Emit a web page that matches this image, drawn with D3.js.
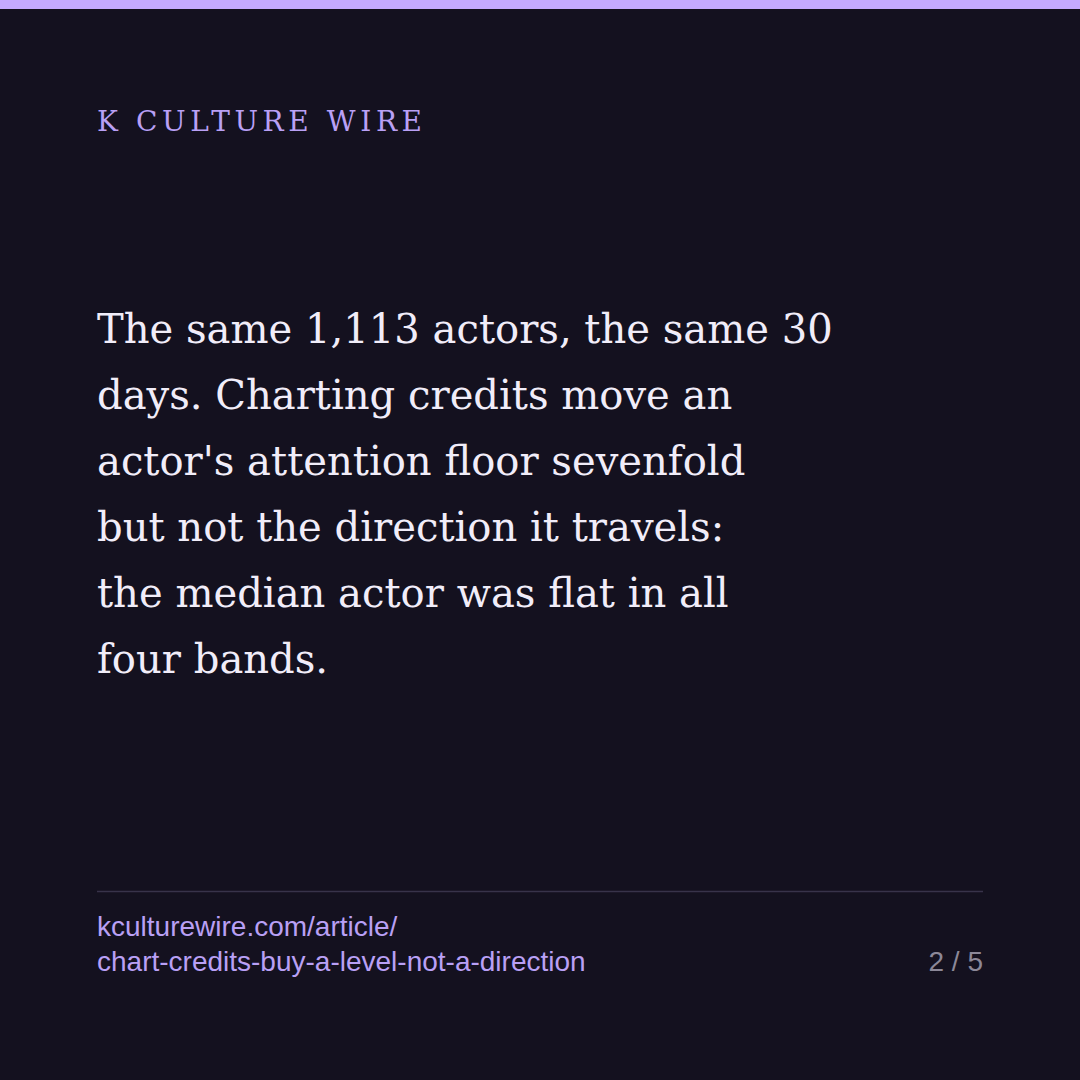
<!DOCTYPE html>
<html>
<head>
<meta charset="utf-8">
<script src="https://cdn.jsdelivr.net/npm/d3@7"></script>
<style>
  html, body { margin: 0; padding: 0; background: #14111f; }
</style>
</head>
<body>
<div id="card"></div>
<script>
  // content
  const brand = "K CULTURE WIRE";
  const bodyLines = [
    "The same 1,113 actors, the same 30",
    "days. Charting credits move an",
    "actor's attention floor sevenfold",
    "but not the direction it travels:",
    "the median actor was flat in all",
    "four bands."
  ];
  const linkLines = ["kculturewire.com/article/", "chart-credits-buy-a-level-not-a-direction"];
  const pageLabel = "2 / 5";

  function drawCard() {
    const width = 1080;
    const height = 1080;
    const left = 97;
    const right = 983;

    const svg = d3.select("#card")
      .append("svg")
      .attr("width", width)
      .attr("height", height);

    svg.append("rect")
      .attr("width", width)
      .attr("height", height)
      .attr("fill", "#14111f");

    // top accent bar
    svg.append("rect")
      .attr("width", width)
      .attr("height", 9)
      .attr("fill", "#c4a9ff");

    svg.append("text")
      .attr("x", left)
      .attr("y", 131)
      .attr("fill", "#b9a0f5")
      .style("font-family", "'DejaVu Serif', 'Liberation Serif', serif")
      .style("font-size", "28px")
      .style("letter-spacing", "4.6px")
      .text(brand);

    // body lines, one baseline each
    const lineY = d3.scalePoint()
      .domain(d3.range(bodyLines.length))
      .range([343, 673]);

    const body = svg.append("g")
      .selectAll("text")
      .data(bodyLines)
      .join("text")
        .attr("x", left)
        .attr("y", (d, i) => lineY(i))
        .attr("fill", "#f1edf9")
        .style("font-family", "'DejaVu Serif', 'Liberation Serif', serif")
        .style("font-size", "40px")
        .text(d => d);

    // fit first line to the reference width (97 -> 833)
    const w0 = body.node().getComputedTextLength();
    const fs = 40 * 736 / w0;
    body.style("font-size", fs + "px");

    svg.append("line")
      .attr("x1", left)
      .attr("x2", right)
      .attr("y1", 891.5)
      .attr("y2", 891.5)
      .attr("stroke", "#38334a")
      .attr("stroke-width", 1.5);

    svg.append("g")
      .selectAll("text")
      .data(linkLines)
      .join("text")
        .attr("x", left)
        .attr("y", (d, i) => 936 + i * 35)
        .attr("fill", "#b9a0f5")
        .style("font-family", "'Liberation Sans', Arial, sans-serif")
        .style("font-size", "28px")
        .text(d => d);

    svg.append("text")
      .attr("x", right)
      .attr("y", 971)
      .attr("text-anchor", "end")
      .attr("fill", "#8c8898")
      .style("font-family", "'Liberation Sans', Arial, sans-serif")
      .style("font-size", "28px")
      .text(pageLabel);
  }

  window.onload = drawCard;
</script>
</body>
</html>
